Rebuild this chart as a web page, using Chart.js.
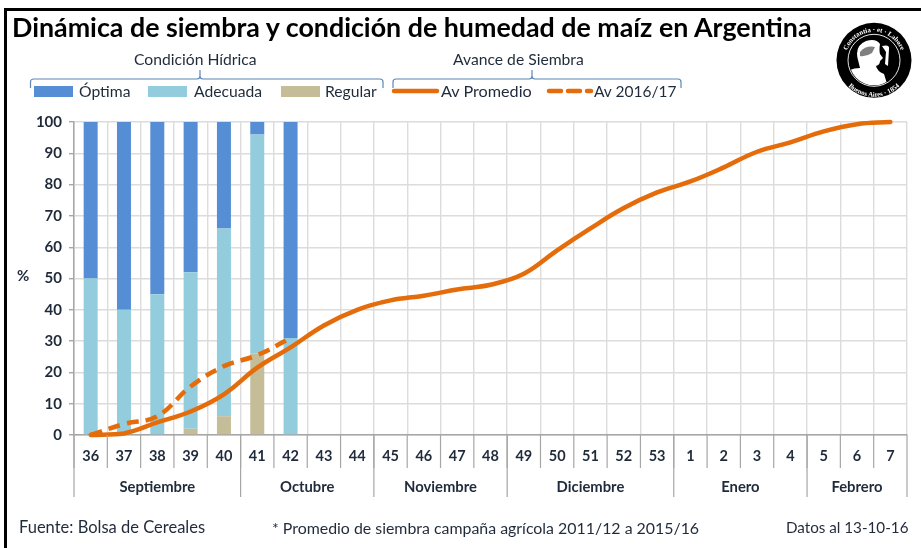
<!DOCTYPE html>
<html><head><meta charset="utf-8">
<script src="https://cdn.jsdelivr.net/npm/chart.js@4"></script>
<style>
html,body{margin:0;padding:0;background:#fff;width:921px;height:548px;overflow:hidden}
#wrap{position:relative;width:921px;height:548px;font-family:Lato,sans-serif;color:#1f2a3a}
#frame{position:absolute;left:4px;top:8px;width:917px;height:540px;box-sizing:border-box;border-top:3px solid #000;border-left:3px solid #000}
canvas{position:absolute;left:0;top:0}
.t{position:absolute;white-space:nowrap;font-size:15.7px;line-height:18px}
#title{left:12px;top:11px;font-size:26.8px;line-height:32px;font-weight:700;color:#000}
.sw{position:absolute;height:11px;width:39px;top:86px}
svg{position:absolute;left:0;top:0}
</style></head><body>
<div id="wrap">
<canvas id="c" width="921" height="548"></canvas>
<div id="frame"></div>
<div class="t" id="title">Dinámica de siembra y condición de humedad de maíz en Argentina</div>
<div class="t" style="left:134px;top:50px">Condición Hídrica</div>
<div class="t" style="left:453px;top:50px">Avance de Siembra</div>
<div class="sw" style="left:34px;background:#558ED5"></div>
<div class="t" style="left:79px;top:82px">Óptima</div>
<div class="sw" style="left:148px;background:#93CDDD"></div>
<div class="t" style="left:194px;top:82px">Adecuada</div>
<div class="sw" style="left:281px;background:#C4BD97"></div>
<div class="t" style="left:325px;top:82px">Regular</div>
<div class="t" style="left:441px;top:82px;font-size:16.2px">Av Promedio</div>
<div class="t" style="left:594px;top:82px;font-size:15.5px">Av 2016/17</div>
<div class="t" style="left:17px;top:266px;font-weight:700;font-size:15px">%</div>
<div class="t" style="left:19px;top:518px;font-size:16.5px">Fuente: Bolsa de Cereales</div>
<div class="t" style="left:272px;top:519px;font-size:15.9px">* Promedio de siembra campaña agrícola 2011/12 a 2015/16</div>
<div class="t" style="left:786px;top:518px;font-size:15.2px">Datos al 13-10-16</div>
<svg width="921" height="548" viewBox="0 0 921 548">
<path d="M30.5 88 V82 Q30.5 79 34 79 H197 Q200 79 200 76 V70 V76 Q200 79 203 79 H380 Q383 79 383 82 V88" fill="none" stroke="#5b86b8" stroke-width="1.2"/>
<path d="M393 88 V82 Q393 79 396 79 H529 Q532 79 532 76 V70 V76 Q532 79 535 79 H678 Q681 79 681 82 V88" fill="none" stroke="#5b86b8" stroke-width="1.2"/>
<line x1="394" y1="91" x2="437" y2="91" stroke="#E46C0A" stroke-width="4.5" stroke-linecap="round"/>
<line x1="549" y1="91" x2="591" y2="91" stroke="#E46C0A" stroke-width="4.5" stroke-dasharray="12 7" stroke-linecap="round"/>
<defs>
<path id="arcT" d="M845.5 60.3 A28.5 28.5 0 0 1 902.5 60.3"/>
<path id="arcB" d="M837.5 60.3 A36.5 36.5 0 0 0 910.5 60.3"/>
<clipPath id="inner"><circle cx="874" cy="60.3" r="25"/></clipPath>
</defs>
<circle cx="874" cy="60.3" r="37.5" fill="#000"/>
<circle cx="874" cy="60.3" r="26" fill="none" stroke="#fff" stroke-width="0.9"/>
<text font-family="Liberation Serif" font-size="6.8" font-weight="700" fill="#fff"><textPath href="#arcT" startOffset="50%" text-anchor="middle">Constantia · et · Labore</textPath></text>
<text font-family="Liberation Serif" font-size="6.8" font-weight="700" fill="#fff"><textPath href="#arcB" startOffset="50%" text-anchor="middle">Buenos Aires · 1854</textPath></text>
<g clip-path="url(#inner)">
<path d="M858 60 Q854 46 866 41 Q876 38 880 44 Q879 50 880 54 L883 58 L880 61 Q880 65 876 66 Q877 71 884 74 L889 90 L845 90 L845 72 Q853 68 860 68 Z" fill="#fff"/>
<path d="M860 52 Q866 45 875 47 L872 53 Q866 57 860 56 Z" fill="#808080"/>
<path d="M882 46 Q890 44 889 49 L888 66 L885 64 L886 52 Z" fill="#fff"/>
</g>
</svg>
</div>
<script>
const categories=['36','37','38','39','40','41','42','43','44','45','46','47','48','49','50','51','52','53','1','2','3','4','5','6','7'];
const optima=[50,60,55,48,34,4,69];
const adecuada=[50,40,45,50,60,70,31];
const regular=[0,0,0,2,6,26,0];
const avPromedio=[0,0.5,4,7.5,13,21.5,28,35,40,43,44.5,46.5,48,51.5,59,66,72.5,77.5,81,85.5,90.5,93.5,97,99.3,100];
const av2016=[0,3.5,6,15.5,22,25.5,31];
const months=['Septiembre','Octubre','Noviembre','Diciembre','Enero','Febrero'];
const monthSpans=[5,4,4,5,4,3];
const yTicks=[0,10,20,30,40,50,60,70,80,90,100];

const axisPlugin={id:'axisGroups',afterDraw(chart){
  const x=chart.scales.x,ctx=chart.ctx,base=chart.scales.y.bottom,step=x.getPixelForValue(1)-x.getPixelForValue(0);
  ctx.save();
  ctx.strokeStyle='#a6a6a6';ctx.lineWidth=1.2;
  categories.forEach((c,i)=>{const p=x.getPixelForValue(i)-step/2;ctx.beginPath();ctx.moveTo(p,base);ctx.lineTo(p,base+33);ctx.stroke();});
  let s=0;ctx.fillStyle='#1f2a3a';ctx.font='700 14.8px Lato';ctx.textAlign='center';ctx.textBaseline='middle';
  const edge=k=>x.getPixelForValue(k)-step/2;
  const vline=p=>{ctx.beginPath();ctx.moveTo(p,base);ctx.lineTo(p,base+62);ctx.stroke();};
  vline(edge(0));
  months.forEach((m,i)=>{const e=s+monthSpans[i];vline(edge(e));ctx.fillText(m,(edge(s)+edge(e))/2,base+52);s=e;});
  ctx.restore();
}};
new Chart(document.getElementById('c'),{
 type:'bar',
 data:{labels:categories,datasets:[
  {type:'line',label:'Av Promedio',data:avPromedio,borderColor:'#E46C0A',borderWidth:4.5,pointRadius:0,tension:0.4,stack:'l1',order:1,borderCapStyle:'round',clip:false},
  {type:'line',label:'Av 2016/17',data:av2016,borderColor:'#E46C0A',borderWidth:4.5,borderDash:[12,7],pointRadius:0,tension:0.4,stack:'l2',order:1,clip:false},
  {label:'Regular',data:regular,backgroundColor:'#C4BD97',stack:'a',order:2},
  {label:'Adecuada',data:adecuada,backgroundColor:'#93CDDD',stack:'a',order:2},
  {label:'Óptima',data:optima,backgroundColor:'#558ED5',stack:'a',order:2}
 ]},
 plugins:[axisPlugin],
 options:{responsive:false,animation:false,
  layout:{padding:{top:122,right:14,left:0,bottom:0}},
  datasets:{bar:{barPercentage:0.42,categoryPercentage:1}},
  plugins:{legend:{display:false},tooltip:{enabled:false}},
  scales:{
   x:{stacked:true,afterFit(s){s.height=113;},
      grid:{color:'#dcdcdc',lineWidth:1.4,offset:true,drawTicks:false},
      border:{color:'#a6a6a6',width:1.5},
      ticks:{color:'#1f2a3a',font:{family:'Lato',size:14.5,weight:'700'},padding:13,maxRotation:0,autoSkip:false}},
   y:{stacked:true,min:0,max:100,afterFit(s){s.width=74;},
      afterBuildTicks(s){s.ticks=yTicks.map(v=>({value:v}));},
      grid:{color:'#dcdcdc',lineWidth:1.4,tickColor:'#a6a6a6',tickLength:5},
      border:{color:'#a6a6a6',width:1.5},
      ticks:{color:'#1f2a3a',font:{family:'Lato',size:15,weight:'700'},padding:7}}
  }
 }
});
</script>
</body></html>
